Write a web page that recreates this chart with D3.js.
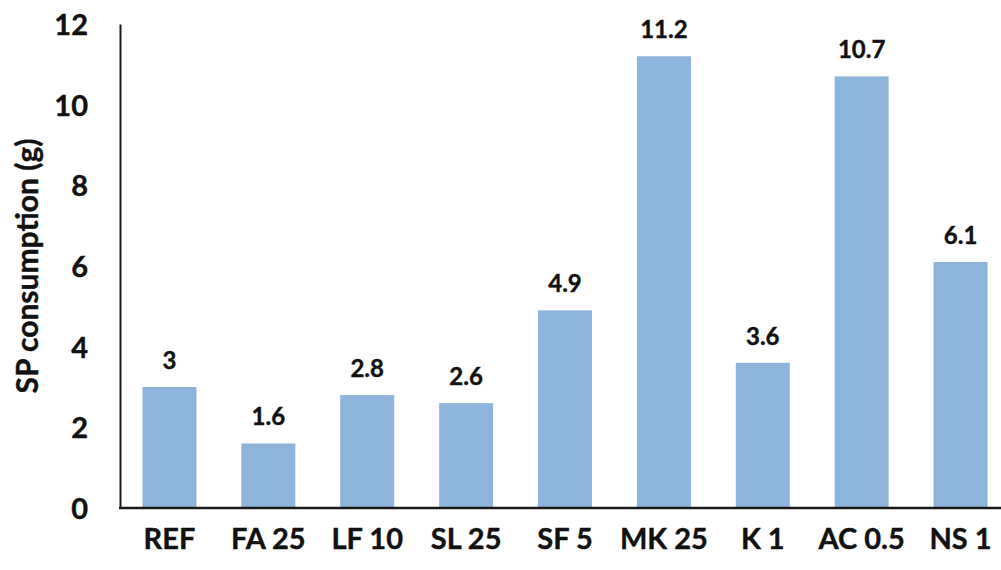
<!DOCTYPE html>
<html>
<head>
<meta charset="utf-8">
<script src="https://cdn.jsdelivr.net/npm/d3@7"></script>
<style>
  html, body { margin: 0; padding: 0; background: #fff; }
  svg { display: block; }
  text { font-family: Lato, "Open Sans", sans-serif; font-weight: bold; fill: #111; stroke: #111; stroke-width: 0.4px; }
</style>
</head>
<body>
<svg id="chart" width="1001" height="570"></svg>
<script>
// Superplasticizer consumption per mix
const categories = ["REF", "FA 25", "LF 10", "SL 25", "SF 5", "MK 25", "K 1", "AC 0.5", "NS 1"];
const values = [3, 1.6, 2.8, 2.6, 4.9, 11.2, 3.6, 10.7, 6.1];
const valueLabels = ["3", "1.6", "2.8", "2.6", "4.9", "11.2", "3.6", "10.7", "6.1"];
const yTicks = [0, 2, 4, 6, 8, 10, 12];
const yTitle = "SP consumption (g)";

const svg = d3.select("#chart");
const plotLeft = 120, plotRight = 1010, plotTop = 24, plotBottom = 508;

const x = d3.scaleBand()
  .domain(categories)
  .range([plotLeft, plotRight])
  .paddingInner(0.454)
  .paddingOuter(0.227);

const y = d3.scaleLinear().domain([0, 12]).range([plotBottom, plotTop]);

// bars
svg.append("g").selectAll("rect")
  .data(values)
  .join("rect")
  .attr("x", (d, i) => x(categories[i]))
  .attr("y", d => y(d))
  .attr("width", x.bandwidth())
  .attr("height", d => y(0) - y(d))
  .attr("fill", "#8db4db");

// value labels
svg.append("g").selectAll("text")
  .data(values)
  .join("text")
  .attr("x", (d, i) => x(categories[i]) + x.bandwidth() / 2)
  .attr("y", d => y(d) - 18)
  .attr("text-anchor", "middle")
  .style("font-size", "24px")
  .text((d, i) => valueLabels[i]);

// y axis
const yAxis = d3.axisLeft(y).tickValues(yTicks).tickSize(0).tickPadding(32).tickFormat(d3.format("d"));
const gy = svg.append("g").attr("transform", `translate(${plotLeft},0)`).call(yAxis);
gy.select(".domain").attr("stroke", "#1a1a1a").attr("stroke-width", 2);
gy.selectAll("text").style("font-size", "29px").attr("dy", "0.36em").attr("fill", "#111");

// x axis
const xAxis = d3.axisBottom(x).tickSize(0).tickPadding(20);
const gx = svg.append("g").attr("transform", `translate(0,${plotBottom})`).call(xAxis);
gx.select(".domain").attr("d", `M${plotLeft - 1},0H1001`).attr("stroke", "#1a1a1a").attr("stroke-width", 2.5);
gx.selectAll("text").style("font-size", "29px").attr("dy", "0.71em").attr("fill", "#111");

// y axis title
svg.append("text")
  .attr("transform", `translate(38,${(plotTop + plotBottom) / 2}) rotate(-90)`)
  .attr("text-anchor", "middle")
  .style("font-size", "30px")
  .text(yTitle);
</script>
</body>
</html>
